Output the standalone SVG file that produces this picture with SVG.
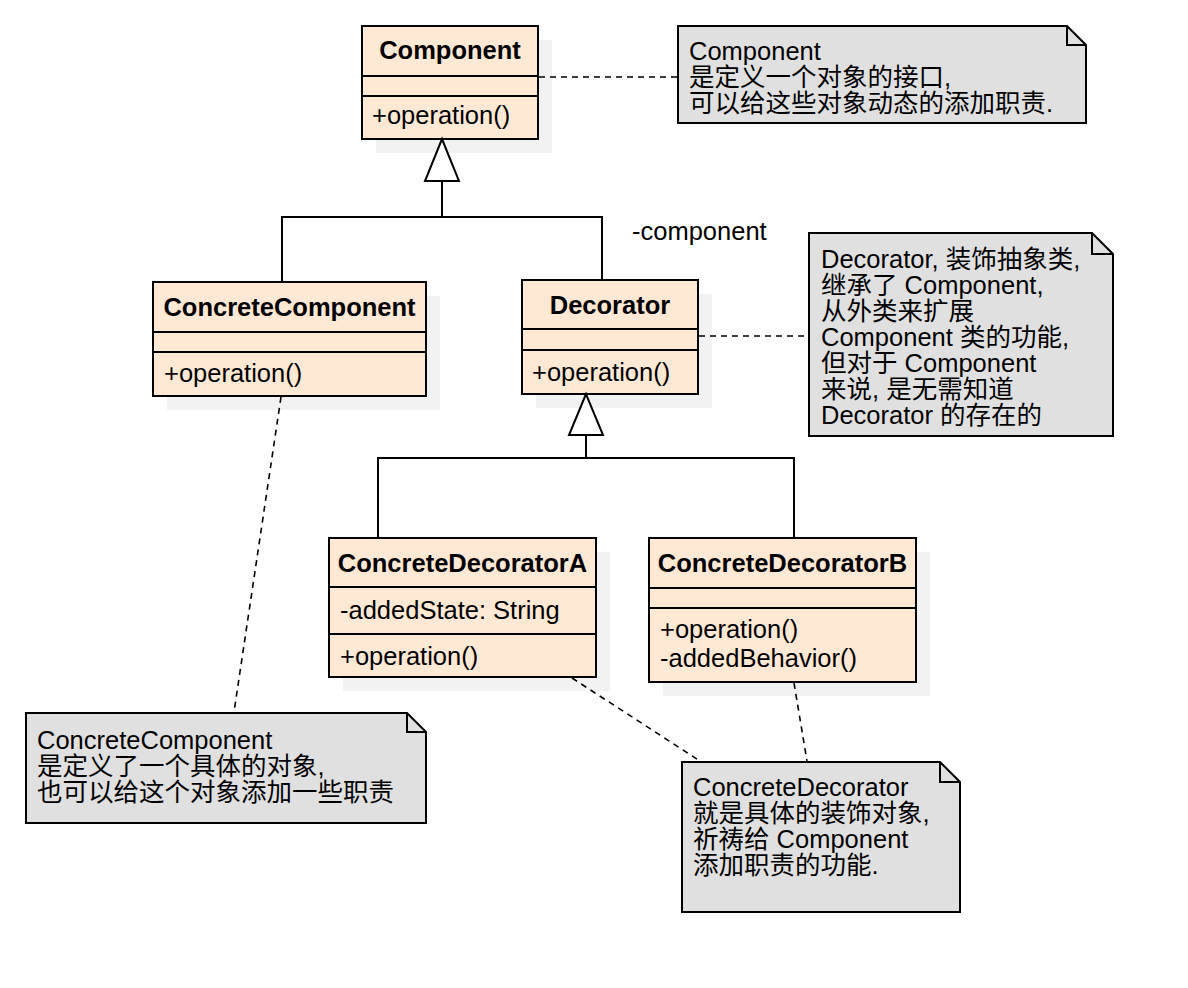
<svg xmlns="http://www.w3.org/2000/svg" width="1188" height="988" viewBox="0 0 1188 988">
<style>
text{font-family:"Liberation Sans","Noto Sans CJK SC",Arial,sans-serif;font-size:25.5px;fill:#000}
.t{font-weight:bold;text-anchor:middle}
.box{fill:#ffe9d4;stroke:#000;stroke-width:2}
.sh{fill:#f2f2f2;stroke:none}
.div{stroke:#000;stroke-width:2}
.note{fill:#e0e0e0;stroke:#000;stroke-width:2}
.fold{fill:none;stroke:#000;stroke-width:2}
.ln{fill:none;stroke:#000;stroke-width:2}
.dash{fill:none;stroke:#000;stroke-width:1.6;stroke-dasharray:6 5}
.tri{fill:#fff;stroke:#000;stroke-width:2}
</style>
<rect width="1188" height="988" fill="#fff"/>
<g id="Component">
<rect class="sh" x="376" y="40" width="176" height="113"/>
<rect class="box" x="362" y="26" width="176" height="113"/>
<line class="div" x1="362" y1="76" x2="538" y2="76"/>
<line class="div" x1="362" y1="96" x2="538" y2="96"/>
<text class="t" x="450" y="59">Component</text>
<text x="372" y="124">+operation()</text>
</g>
<g id="ConcreteComponent">
<rect class="sh" x="167" y="296" width="273" height="114"/>
<rect class="box" x="153" y="282" width="273" height="114"/>
<line class="div" x1="153" y1="332" x2="426" y2="332"/>
<line class="div" x1="153" y1="352" x2="426" y2="352"/>
<text class="t" x="289.5" y="316">ConcreteComponent</text>
<text x="164" y="382">+operation()</text>
</g>
<g id="Decorator">
<rect class="sh" x="536" y="294" width="176" height="114"/>
<rect class="box" x="522" y="280" width="176" height="114"/>
<line class="div" x1="522" y1="329" x2="698" y2="329"/>
<line class="div" x1="522" y1="350" x2="698" y2="350"/>
<text class="t" x="610" y="314">Decorator</text>
<text x="532" y="381">+operation()</text>
</g>
<g id="ConcreteDecoratorA">
<rect class="sh" x="343" y="552" width="267" height="139"/>
<rect class="box" x="329" y="538" width="267" height="139"/>
<line class="div" x1="329" y1="587" x2="596" y2="587"/>
<line class="div" x1="329" y1="634" x2="596" y2="634"/>
<text class="t" x="462.5" y="572">ConcreteDecoratorA</text>
<text x="340" y="619">-addedState: String</text>
<text x="340" y="665">+operation()</text>
</g>
<g id="ConcreteDecoratorB">
<rect class="sh" x="663" y="552" width="267" height="144"/>
<rect class="box" x="649" y="538" width="267" height="144"/>
<line class="div" x1="649" y1="588" x2="916" y2="588"/>
<line class="div" x1="649" y1="608" x2="916" y2="608"/>
<text class="t" x="782.5" y="572">ConcreteDecoratorB</text>
<text x="660" y="638">+operation()</text>
<text x="660" y="667">-addedBehavior()</text>
</g>
<g id="NoteComponent">
<polygon class="note" points="678,26 1067,26 1086,45 1086,123 678,123"/>
<polyline class="fold" points="1067,26 1067,45 1086,45"/>
<text x="689" y="60">Component</text>
<text x="689" y="86">是定义一个对象的接口,</text>
<text x="689" y="112">可以给这些对象动态的添加职责.</text>
</g>
<g id="NoteDecorator">
<polygon class="note" points="809,233 1092,233 1113,254 1113,436 809,436"/>
<polyline class="fold" points="1092,233 1092,254 1113,254"/>
<text x="821" y="268">Decorator, 装饰抽象类,</text>
<text x="821" y="294">继承了 Component,</text>
<text x="821" y="320">从外类来扩展</text>
<text x="821" y="346">Component 类的功能,</text>
<text x="821" y="372">但对于 Component</text>
<text x="821" y="398">来说, 是无需知道</text>
<text x="821" y="424">Decorator 的存在的</text>
</g>
<g id="NoteConcreteComponent">
<polygon class="note" points="26,713 407,713 426,732 426,823 26,823"/>
<polyline class="fold" points="407,713 407,732 426,732"/>
<text x="37" y="749">ConcreteComponent</text>
<text x="37" y="775">是定义了一个具体的对象,</text>
<text x="37" y="801">也可以给这个对象添加一些职责</text>
</g>
<g id="NoteConcreteDecorator">
<polygon class="note" points="682,762 940,762 960,782 960,912 682,912"/>
<polyline class="fold" points="940,762 940,782 960,782"/>
<text x="693" y="796">ConcreteDecorator</text>
<text x="693" y="822">就是具体的装饰对象,</text>
<text x="693" y="848">祈祷给 Component</text>
<text x="693" y="874">添加职责的功能.</text>
</g>
<g id="connectors">
<polyline class="ln" points="442,181 442,217"/>
<polyline class="ln" points="282,282 282,217 602,217 602,280"/>
<polygon class="tri" points="442,139 425,181 459,181"/>
<polyline class="ln" points="586,435 586,458"/>
<polyline class="ln" points="378,538 378,458 794,458 794,538"/>
<polygon class="tri" points="586,394 569,435 603,435"/>
<line class="dash" x1="539" y1="77" x2="677" y2="77"/>
<line class="dash" x1="699" y1="336" x2="808" y2="336"/>
<line class="dash" x1="281" y1="397" x2="234" y2="712"/>
<line class="dash" x1="572" y1="678" x2="700" y2="761"/>
<line class="dash" x1="794" y1="683" x2="807" y2="761"/>
<text x="632" y="240">-component</text>
</g>
</svg>
